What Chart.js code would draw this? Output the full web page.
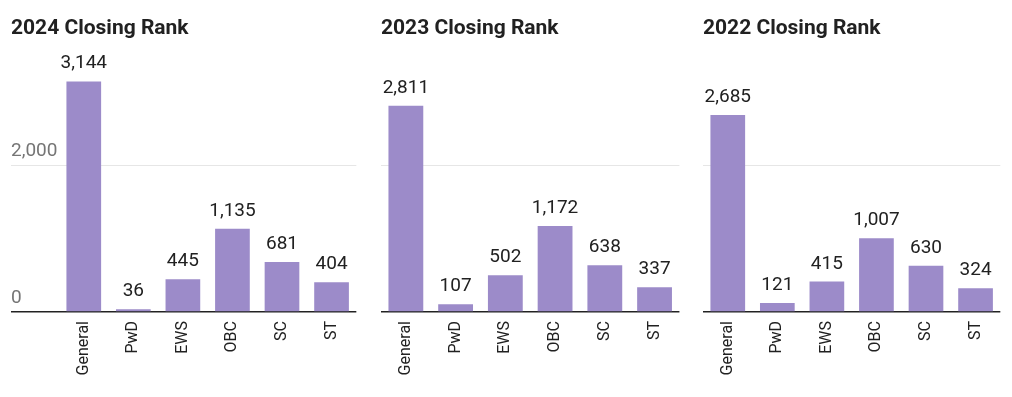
<!DOCTYPE html>
<html>
<head>
<meta charset="utf-8">
<script src="https://cdn.jsdelivr.net/npm/chart.js@4.4.1/dist/chart.umd.min.js"></script>
<style>
  html, body { margin: 0; padding: 0; background: #fff; }
  body { width: 1012px; height: 397px; position: relative; overflow: hidden; }
  .panel { position: absolute; top: 0; height: 397px; }
</style>
</head>
<body>
<div class="panel" style="left:0;width:360px"><canvas id="c2024"></canvas></div>
<div class="panel" style="left:370px;width:313px"><canvas id="c2023"></canvas></div>
<div class="panel" style="left:692px;width:312px"><canvas id="c2022"></canvas></div>
<script>
/* DATA */
const categories = ["General", "PwD", "EWS", "OBC", "SC", "ST"];
const rank2024 = [3144, 36, 445, 1135, 681, 404];
const rank2023 = [2811, 107, 502, 1172, 638, 337];
const rank2022 = [2685, 121, 415, 1007, 630, 324];
const yTicks = [0, 2000];

/* STYLE */
const BAR = "#9c8bc9";
const TEXT = "#212121";
const FONT = "Roboto, 'Noto Sans', sans-serif";
const Y_MAX = 3610;

const fmt = v => v.toLocaleString("en-US");

/* value labels above bars */
const valueLabels = {
  id: "valueLabels",
  afterDatasetsDraw(chart) {
    const ctx = chart.ctx;
    const meta = chart.getDatasetMeta(0);
    const data = chart.data.datasets[0].data;
    ctx.save();
    ctx.font = "19px " + FONT;
    ctx.fillStyle = TEXT;
    ctx.textAlign = "center";
    ctx.textBaseline = "alphabetic";
    meta.data.forEach((bar, i) => {
      ctx.fillText(fmt(data[i]), bar.x, bar.y - 13);
    });
    ctx.restore();
  }
};

function makeChart(id, title, values, showAxis) {
  return new Chart(document.getElementById(id), {
    type: "bar",
    data: {
      labels: categories,
      datasets: [{
        data: values,
        backgroundColor: BAR,
        categoryPercentage: 1,
        barPercentage: 0.7
      }]
    },
    plugins: [valueLabels],
    options: {
      responsive: true,
      maintainAspectRatio: false,
      animation: false,
      layout: { padding: { left: 11, right: 3, top: 0, bottom: 0 } },
      plugins: {
        legend: { display: false },
        tooltip: { enabled: false },
        title: {
          display: true,
          text: title,
          align: "start",
          color: TEXT,
          font: { family: FONT, size: 21, weight: "bold" },
          padding: { top: 16, bottom: 6 }
        }
      },
      scales: {
        x: {
          grid: { display: false, drawTicks: false },
          border: { display: false },
          ticks: {
            color: TEXT,
            font: { family: FONT, size: 16 },
            minRotation: 90,
            maxRotation: 90,
            padding: 9,
            autoSkip: false
          },
          afterFit: s => { s.height = 85; }
        },
        y: {
          min: 0,
          max: Y_MAX,
          afterBuildTicks: s => { s.ticks = yTicks.map(v => ({ value: v })); },
          border: { display: false },
          grid: {
            color: c => c.tick && c.tick.value === 0 ? "#222222" : "#e6e6e6",
            lineWidth: c => c.tick && c.tick.value === 0 ? 1.5 : 1,
            drawTicks: showAxis,
            tickLength: showAxis ? 48 : 0
          },
          ticks: {
            display: showAxis,
            color: "#757575",
            font: { family: FONT, size: 19 },
            crossAlign: "far",
            labelOffset: -14,
            padding: 0,
            callback: v => fmt(v)
          },
          afterFit: s => { s.width = showAxis ? 48 : 0; }
        }
      }
    }
  });
}

makeChart("c2024", "2024 Closing Rank", rank2024, true);
makeChart("c2023", "2023 Closing Rank", rank2023, false);
makeChart("c2022", "2022 Closing Rank", rank2022, false);
</script>
</body>
</html>
